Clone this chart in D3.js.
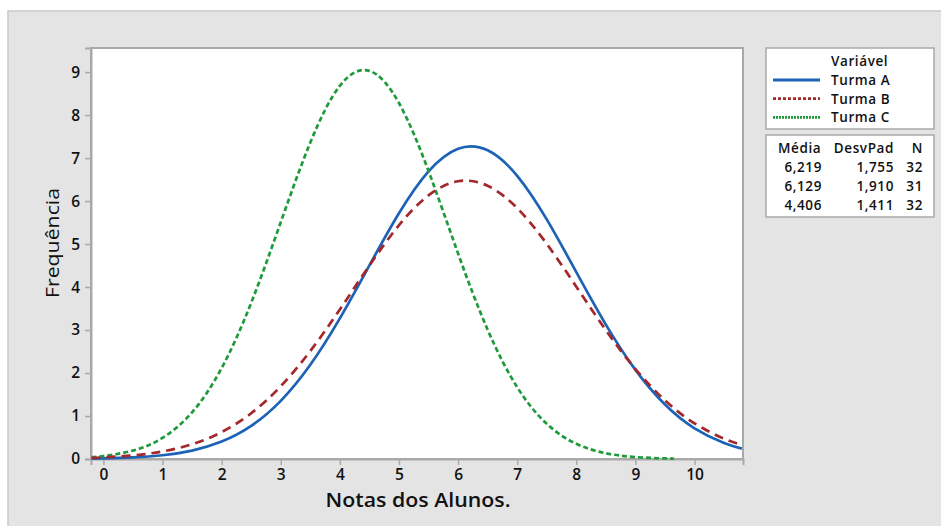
<!DOCTYPE html>
<html><head><meta charset="utf-8">
<script src="https://cdn.jsdelivr.net/npm/d3@7/dist/d3.min.js"></script>
<style>body{margin:0;background:#fff;}svg{display:block;font-family:"Open Sans",sans-serif;}</style>
</head><body>
<svg id="c" width="941" height="526"></svg>
<script>
// ---- data ----
const xs = [-0.2,0,0.5,1,1.5,2,2.5,3,3.5,4,4.5,5,5.5,6,6.5,7,7.5,8,8.5,9,9.5,10,10.5,10.8];
const turmaA = [0.009,0.014,0.036,0.087,0.196,0.405,0.770,1.353,2.191,3.271,4.503,5.715,6.689,7.218,7.182,6.588,5.573,4.347,3.126,2.073,1.267,0.714,0.371,0.241];
const turmaB = [0.027,0.038,0.084,0.176,0.343,0.626,1.065,1.692,2.511,3.479,4.501,5.437,6.133,6.460,6.354,5.836,5.004,4.008,2.996,2.092,1.364,0.831,0.472,0.326];
const xsC = [-0.2,0,0.5,1,1.5,2,2.5,3,3.5,4,4.5,5,5.5,6,6.5,7,7.5,8,8.5,9,9.5,9.65];
const turmaC = [0.044,0.069,0.196,0.491,1.085,2.114,3.633,5.507,7.362,8.681,9.028,8.280,6.699,4.780,3.008,1.670,0.818,0.353,0.134,0.045,0.013,0.009];
const seriesNames = ["Turma A","Turma B","Turma C"];
const media = ["6,219","6,129","4,406"];
const desvPad = ["1,755","1,910","1,411"];
const nVals = ["32","31","32"];
const xTicks = [0,1,2,3,4,5,6,7,8,9,10];
const yTicks = [0,1,2,3,4,5,6,7,8,9];

const svg = d3.select("#c");
const colors = ["#1c63b7","#a3272b","#1e9a3b"];
const dashes = [null,"9,6","5,3"];
const legendDashes = [null,"3,2","2,1"];
const ink = "#111";

// background panel
svg.append("rect").attr("x",8).attr("y",11).attr("width",960).attr("height",560)
  .attr("fill","#e4e4e4").attr("stroke","#c9c9c9").attr("stroke-width",1.5);

const L=91,T=48,R=743,B=459;
const x = d3.scaleLinear().domain([-0.21,10.82]).range([L,R]);
const y = d3.scaleLinear().domain([0,9.56]).range([B,T]);

svg.append("rect").attr("x",L).attr("y",T).attr("width",R-L).attr("height",B-T)
  .attr("fill","#fff").attr("stroke","#a9a9a9").attr("stroke-width",2);

const gx = svg.append("g").attr("transform",`translate(0,${B})`)
  .call(d3.axisBottom(x).tickValues(xTicks).tickSize(6).tickPadding(4).tickFormat(d3.format("d")));
const gy = svg.append("g").attr("transform",`translate(${L},0)`)
  .call(d3.axisLeft(y).tickValues(yTicks).tickSize(6).tickPadding(5).tickFormat(d3.format("d")));
[gx,gy].forEach(g=>{
  g.select(".domain").attr("stroke","#a9a9a9").attr("stroke-width",2);
  g.selectAll(".tick line").attr("stroke","#a9a9a9").attr("stroke-width",1.5);
  g.selectAll(".tick text").attr("font-size",15.5).attr("font-weight",600).attr("fill",ink).attr("font-family","'Open Sans',sans-serif");
});

// curves
svg.append("clipPath").attr("id","pc").append("rect").attr("x",L).attr("y",T).attr("width",R-L).attr("height",B-T+2);
const line = d3.line().x(d=>x(d[0])).y(d=>y(d[1])).curve(d3.curveNatural);
const data = [xs.map((v,i)=>[v,turmaA[i]]), xs.map((v,i)=>[v,turmaB[i]]), xsC.map((v,i)=>[v,turmaC[i]])];
const gl = svg.append("g").attr("clip-path","url(#pc)");
[0,2,1].forEach(i=>{
  gl.append("path").attr("d",line(data[i])).attr("fill","none").attr("stroke",colors[i])
    .attr("stroke-width",2.7).attr("stroke-dasharray",dashes[i]);
});

// axis titles
svg.append("text").attr("x",418).attr("y",507).attr("text-anchor","middle")
  .attr("font-size",19).attr("font-weight",600).attr("fill",ink)
  .attr("textLength",185).attr("lengthAdjust","spacingAndGlyphs").text("Notas dos Alunos.");
svg.append("text").attr("transform","translate(59,243) rotate(-90)").attr("text-anchor","middle")
  .attr("font-size",19).attr("font-weight",500).attr("fill",ink).attr("textLength",110).attr("lengthAdjust","spacingAndGlyphs").text("Frequência");

// legend box 1
const fs = 13.5, ls = 0.6;
function lt(xp, yp, s, anchor){
  return svg.append("text").attr("x",xp).attr("y",yp).attr("text-anchor",anchor||"start")
    .attr("font-size",fs).attr("font-weight",600).attr("letter-spacing",ls).attr("fill",ink).text(s);
}
svg.append("rect").attr("x",766).attr("y",48).attr("width",168).attr("height",81)
  .attr("fill","#fff").attr("stroke","#a9a9a9").attr("stroke-width",1.5);
lt(831,66,"Variável");
seriesNames.forEach((s,i)=>{
  const yy = 80 + i*18.7;
  svg.append("line").attr("x1",773).attr("x2",820).attr("y1",yy).attr("y2",yy)
    .attr("stroke",colors[i]).attr("stroke-width",2.8).attr("stroke-dasharray",legendDashes[i]);
  lt(831,yy+5,s);
});

// legend box 2
svg.append("rect").attr("x",766).attr("y",135).attr("width",168).attr("height",82)
  .attr("fill","#fff").attr("stroke","#a9a9a9").attr("stroke-width",1.5);
lt(778,153,"Média");
lt(894,153,"DesvPad","end");
lt(923,153,"N","end");
media.forEach((m,i)=>{
  const yy = 171.5 + i*19;
  lt(822,yy,m,"end");
  lt(894,yy,desvPad[i],"end");
  lt(923,yy,nVals[i],"end");
});
</script>
</body></html>
